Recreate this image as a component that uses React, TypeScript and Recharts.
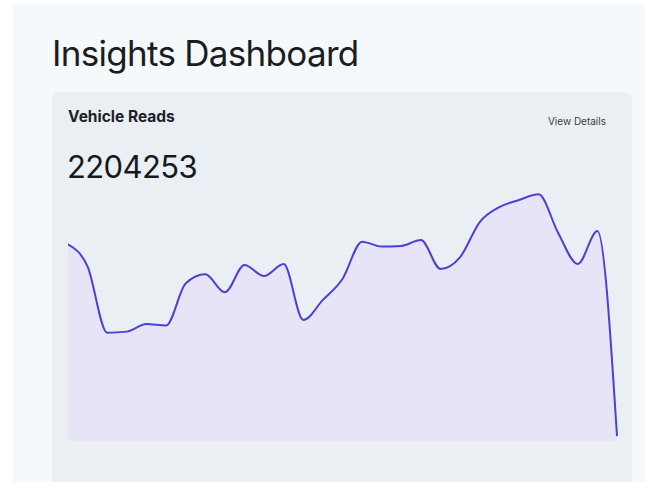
import { Area, AreaChart, XAxis, YAxis } from "recharts";

// daily vehicle reads (29 days)
const days = [
  "01", "02", "03", "04", "05", "06", "07", "08", "09", "10",
  "11", "12", "13", "14", "15", "16", "17", "18", "19", "20",
  "21", "22", "23", "24", "25", "26", "27", "28", "29",
];
const reads = [
  88100, 78100, 48500, 49000, 52400, 51700, 70600, 74700, 66600, 78800,
  73900, 79300, 54200, 63200, 72600, 89300, 87100, 87400, 90000, 77100,
  82400, 98100, 104800, 108000, 110500, 93200, 79300, 94100, 2200,
];
const totalReads = "2204253";

const data = days.map((d, i) => ({ day: d, reads: reads[i] }));

export default function App() {
  return (
    <div
      style={{
        position: "fixed",
        left: 0,
        top: 0,
        width: 645,
        height: 482,
        background: "#ffffff",
        fontFamily: "Inter, sans-serif",
        overflow: "hidden",
      }}
    >
      <div
        style={{
          position: "absolute",
          left: 13,
          top: 5,
          width: 632,
          height: 477,
          background: "#f6f9fc",
        }}
      />
      <h1
        style={{
          position: "absolute",
          left: 52,
          top: 32,
          margin: 0,
          fontSize: 35,
          fontWeight: 400,
          color: "#1a1d21",
          letterSpacing: -0.7,
        }}
      >
        Insights Dashboard
      </h1>
      <div
        style={{
          position: "absolute",
          left: 52,
          top: 92,
          width: 580,
          height: 400,
          background: "#eaeff4",
          borderRadius: 6,
        }}
      >
        <div
          style={{
            position: "absolute",
            left: 16,
            top: 15,
            fontSize: 15.5,
            fontWeight: 700,
            color: "#1e2126",
          }}
        >
          Vehicle Reads
        </div>
        <div
          style={{
            position: "absolute",
            right: 26,
            top: 23,
            fontSize: 10,
            color: "#3a3d42",
          }}
        >
          View Details
        </div>
        <div
          style={{
            position: "absolute",
            left: 15,
            top: 56,
            fontSize: 31,
            fontWeight: 400,
            color: "#16191d",
            letterSpacing: -0.6,
          }}
        >
          {totalReads}
        </div>
      </div>
      <div style={{ position: "absolute", left: 68, top: 191 }}>
        <AreaChart
          width={550}
          height={251}
          data={data}
          margin={{ top: 0, right: 1, bottom: 1, left: 0 }}
        >
          <XAxis dataKey="day" hide padding={{ left: 0, right: 0 }} />
          <YAxis hide domain={[0, 112000]} />
          <Area
            type="monotone"
            dataKey="reads"
            stroke="#4f3fd6"
            strokeWidth={2}
            fill="#e8e4f8"
            fillOpacity={1}
            isAnimationActive={false}
          />
        </AreaChart>
      </div>
    </div>
  );
}
